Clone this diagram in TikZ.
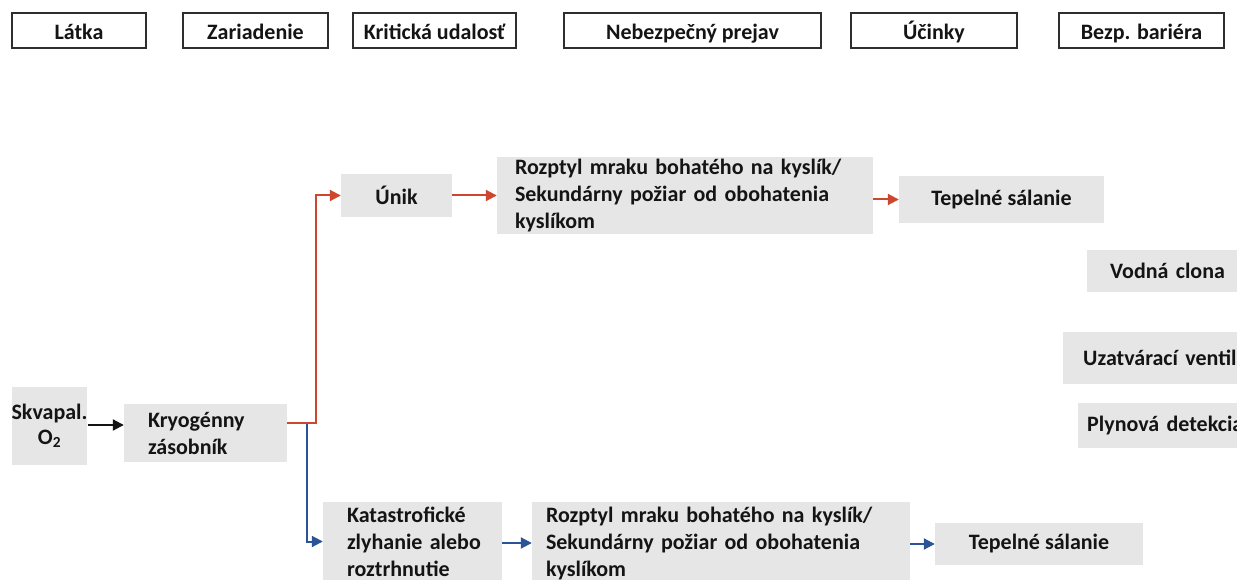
\documentclass[tikz,border=0pt]{standalone}
\usepackage{fontspec}
\setmainfont{Carlito}
\usetikzlibrary{arrows.meta}
\definecolor{boxgray}{HTML}{E6E6E6}
\definecolor{framegray}{HTML}{2E2E2E}
\definecolor{inkc}{HTML}{141414}
\definecolor{redline}{HTML}{CC4630}
\definecolor{blueline}{HTML}{2B5397}
\tikzset{
  txt/.style={font=\fontsize{22}{27}\selectfont\bfseries, text=inkc},
  hbox/.style={txt, draw=framegray, line width=2pt, fill=white, inner sep=0pt,
    minimum height=35pt, text height=20pt, text depth=1pt},
  gbox/.style={txt, fill=boxgray, draw=none, inner ysep=0pt},
  conn/.style={line width=2pt, -{Triangle[length=11pt,width=11pt]}},
  blk/.style={conn, draw=inkc},
  redc/.style={conn, draw=redline},
  bluec/.style={conn, draw=blueline},
}
\begin{document}
\begin{tikzpicture}[x=1pt, y=-1pt]
\useasboundingbox (0,0) rectangle (1237,580);
\clip (0,0) rectangle (1237,580);

% column headings
\node[hbox, minimum width=134pt] (h1) at (79,30.5) {Látka};
\node[hbox, minimum width=145pt] (h2) at (255.5,30.5) {Zariadenie};
\node[hbox, minimum width=163pt] (h3) at (434.5,30.5) {Kritická udalosť};
\node[hbox, minimum width=257pt] (h4) at (692.5,30.5) {Nebezpečný prejav};
\node[hbox, minimum width=166pt] (h5) at (934,30.5) {Účinky};
\node[hbox, minimum width=165pt] (h6) at (1141.5,30.5) {Bezp. bariéra};

% substance and equipment
\node[gbox, minimum width=75pt, minimum height=78pt, inner xsep=0pt, align=center,
  font=\fontsize{22}{25}\selectfont\bfseries] (skv) at (49.5,426) {Skvapal.\\O$_{\mathbf 2}$};
\node[gbox, minimum width=163pt, minimum height=58pt, inner xsep=24pt, text width=115pt, align=left] (kryo) at (205.5,433)
  {Kryogénny\\zásobník};

% upper branch: leak
\node[gbox, minimum width=111pt, minimum height=43pt, align=center] (unik) at (396.5,195.5) {Únik};
\node[gbox, minimum width=376pt, minimum height=77pt, inner xsep=18pt, text width=340pt, align=left] (box1) at (685,195.5)
  {Rozptyl~mraku~bohatého~na~kyslík/\\Sekundárny~požiar~od~obohatenia\\kyslíkom};
\node[gbox, minimum width=205pt, minimum height=47pt, align=center] (tep1) at (1001.5,199.5) {Tepelné sálanie};

% safety barriers
\node[gbox, anchor=west, minimum width=180pt, minimum height=42pt, inner xsep=23pt, text width=134pt, align=left] (vodna) at (1087,271) {Vodná~clona};
\node[gbox, anchor=west, minimum width=200pt, minimum height=52pt, inner xsep=20pt, text width=160pt, align=left] (uzat) at (1063,358) {Uzatvárací~ventil};
\node[gbox, anchor=west, minimum width=190pt, minimum height=45pt, inner xsep=9pt, text width=172pt, align=left] (plyn) at (1078,425.5) {Plynová~detekcia};

% lower branch: catastrophic failure
\node[gbox, minimum width=179pt, minimum height=79pt, inner xsep=24pt, text width=131pt, align=left] (kat) at (412.5,541.5)
  {Katastrofické\\zlyhanie~alebo\\roztrhnutie};
\node[gbox, minimum width=378pt, minimum height=83pt, inner xsep=14pt, text width=350pt, align=left] (box2) at (721,543.5)
  {Rozptyl~mraku~bohatého~na~kyslík/\\Sekundárny~požiar~od~obohatenia\\kyslíkom};
\node[gbox, minimum width=208pt, minimum height=42pt, align=center] (tep2) at (1039,544) {Tepelné sálanie};

% connectors
\draw[blk] (skv.east |- 0,425) -- (kryo.west |- 0,425);
\draw[bluec] ([xshift=20pt,yshift=10pt]kryo.east) |- (kat.west);
\draw[redc] ([yshift=10pt]kryo.east) -- ++(29,0) |- (unik.west);
\draw[redc] (unik.east) -- (box1.west);
\draw[redc] (box1.east |- tep1.west) -- (tep1.west);
\draw[bluec] (kat.east |- 0,543) -- (box2.west |- 0,543);
\draw[bluec] (box2.east |- tep2.west) -- (tep2.west);
\end{tikzpicture}
\end{document}
